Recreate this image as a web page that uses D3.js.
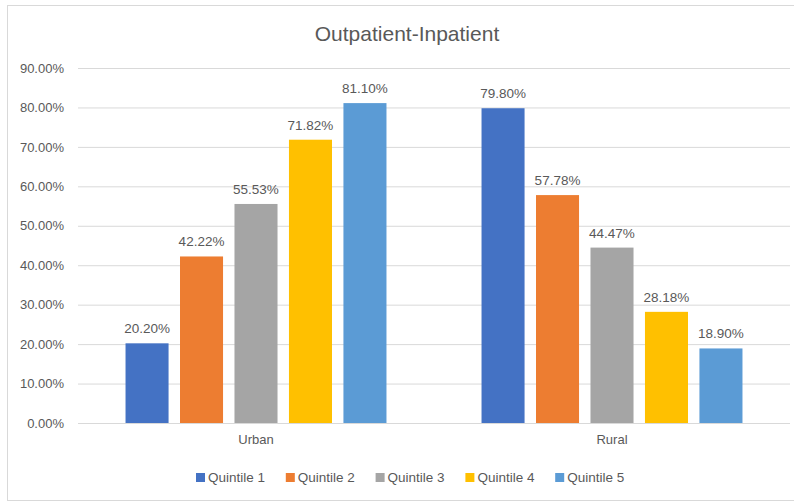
<!DOCTYPE html>
<html>
<head>
<meta charset="utf-8">
<script src="https://cdn.jsdelivr.net/npm/d3@7"></script>
<style>
  body { margin: 0; background: #fff; }
  svg { display: block; }
</style>
</head>
<body>
<div id="chart"></div>
<script>
const categories = ['Urban', 'Rural']
const quintiles = ['Quintile 1', 'Quintile 2', 'Quintile 3', 'Quintile 4', 'Quintile 5']
const urbanValues = [20.20, 42.22, 55.53, 71.82, 81.10]
const ruralValues = [79.80, 57.78, 44.47, 28.18, 18.90]
const yTicks = [0, 10, 20, 30, 40, 50, 60, 70, 80, 90]
const colors = ['#4472c4', '#ed7d31', '#a5a5a5', '#ffc000', '#5b9bd5']

const seriesByCategory = { Urban: urbanValues, Rural: ruralValues }

const width = 794
const height = 502
const margin = { top: 68, right: 4, bottom: 79, left: 78 }
const font = '"Liberation Sans", Arial, sans-serif'
const textColor = '#595959'

const svg = d3.select('#chart').append('svg')
  .attr('width', width)
  .attr('height', height)

// chart border
svg.append('rect')
  .attr('x', 7.5)
  .attr('y', 5.5)
  .attr('width', 800)
  .attr('height', 495)
  .attr('fill', 'none')
  .attr('stroke', '#d9d9d9')

const x0 = d3.scaleBand()
  .domain(categories)
  .range([margin.left, width - margin.right])
  .paddingInner(0.267)
  .paddingOuter(0.1335)

const x1 = d3.scaleBand()
  .domain(quintiles)
  .range([0, x0.bandwidth()])
  .paddingInner(0.21)

const y = d3.scaleLinear()
  .domain([0, 90])
  .range([height - margin.bottom, margin.top])

// gridlines + y labels
const yAxis = g => g
  .attr('transform', `translate(${margin.left},0)`)
  .call(d3.axisLeft(y)
    .tickValues(yTicks)
    .tickSize(-(width - margin.right - margin.left))
    .tickPadding(14)
    .tickFormat(d => d.toFixed(2) + '%'))
  .call(g => g.select('.domain').remove())
  .call(g => g.selectAll('.tick line').attr('stroke', '#d9d9d9'))
  .call(g => g.selectAll('.tick text')
    .attr('fill', textColor)
    .attr('font-size', '13px')
    .attr('font-family', font))

svg.append('g').call(yAxis)

// category labels
const xAxis = g => g
  .attr('transform', `translate(0,${height - margin.bottom})`)
  .call(d3.axisBottom(x0).tickSize(0).tickPadding(12))
  .call(g => g.select('.domain').remove())
  .call(g => g.selectAll('.tick text')
    .attr('fill', textColor)
    .attr('font-size', '13px')
    .attr('font-family', font))

svg.append('g').call(xAxis)

// bars
const group = svg.append('g').selectAll('g')
  .data(categories).enter()
  .append('g')
  .attr('transform', d => `translate(${x0(d)},0)`)

const bar = group.selectAll('g')
  .data(c => quintiles.map((q, i) => ({ q, i, v: seriesByCategory[c][i] })))
  .enter().append('g')

bar.append('rect')
  .attr('x', d => x1(d.q))
  .attr('width', x1.bandwidth())
  .attr('y', d => y(d.v))
  .attr('height', d => y(0) - y(d.v))
  .attr('fill', d => colors[d.i])

bar.append('text')
  .attr('x', d => x1(d.q) + x1.bandwidth() / 2)
  .attr('y', d => y(d.v) - 10)
  .attr('text-anchor', 'middle')
  .attr('fill', textColor)
  .attr('font-size', '13.5px')
  .attr('font-family', font)
  .text(d => d.v.toFixed(2) + '%')

// title
svg.append('text')
  .attr('x', 407)
  .attr('y', 41)
  .attr('text-anchor', 'middle')
  .attr('fill', textColor)
  .attr('font-size', '21px')
  .attr('font-family', font)
  .text('Outpatient-Inpatient')

// legend
const legend = svg.append('g')
  .attr('transform', 'translate(196,473)')

const item = legend.selectAll('g')
  .data(quintiles).enter()
  .append('g')
  .attr('transform', (d, i) => `translate(${i * 89.8},0)`)

item.append('rect')
  .attr('width', 9)
  .attr('height', 9)
  .attr('fill', (d, i) => colors[i])

item.append('text')
  .attr('x', 12)
  .attr('y', 9)
  .attr('fill', textColor)
  .attr('font-size', '13.5px')
  .attr('font-family', font)
  .text(d => d)
</script>
</body>
</html>
